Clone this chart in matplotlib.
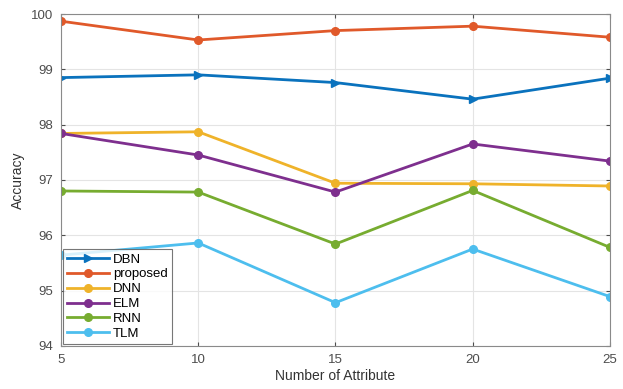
import matplotlib
matplotlib.use('Agg')
from matplotlib import pyplot as plt

plt.rcParams['font.family'] = ['Liberation Sans', 'DejaVu Sans']

attrs = [5, 10, 15, 20, 25]
dbn = [98.85, 98.90, 98.76, 98.46, 98.84]
proposed = [99.87, 99.53, 99.70, 99.78, 99.58]
dnn = [97.84, 97.87, 96.94, 96.93, 96.89]
elm = [97.84, 97.45, 96.78, 97.65, 97.34]
rnn = [96.80, 96.78, 95.84, 96.81, 95.78]
tlm = [95.64, 95.86, 94.78, 95.75, 94.89]

series = [
    ('DBN', dbn, '#0a72bd', '>'),
    ('proposed', proposed, '#e0592a', 'o'),
    ('DNN', dnn, '#efb32a', 'o'),
    ('ELM', elm, '#7e2f8e', 'o'),
    ('RNN', rnn, '#77ac30', 'o'),
    ('TLM', tlm, '#4dbeee', 'o'),
]

fig = plt.figure(figsize=(6.23, 3.89), dpi=100)
ax = fig.add_axes([0.098, 0.111, 0.881, 0.853])

for name, vals, col, mk in series:
    ax.plot(attrs, vals, color=col, marker=mk, markersize=5.5, linewidth=2,
            label=name)

ax.set_xlim(5, 25)
ax.set_ylim(94, 100)
ax.set_xticks(attrs)
ax.set_yticks(range(94, 101))
ax.grid(True, color='#e4e4e4', linewidth=0.8)
ax.tick_params(direction='in', top=True, right=True, labelsize=9.5,
               colors='#4d4d4d', length=3, pad=6)
for s in ax.spines.values():
    s.set_color('#8a8a8a')
ax.set_xlabel('Number of Attribute', fontsize=10, color='#333333', labelpad=2)
ax.set_ylabel('Accuracy', fontsize=10, color='#333333')

leg = ax.legend(loc='lower left', fontsize=9.5, frameon=True, fancybox=False,
                handlelength=3.2, borderpad=0.3, labelspacing=0.2,
                handletextpad=0.3, borderaxespad=0.15)
leg.get_frame().set_edgecolor('#555555')
leg.get_frame().set_linewidth(0.8)

plt.savefig('out.png', dpi=100)
